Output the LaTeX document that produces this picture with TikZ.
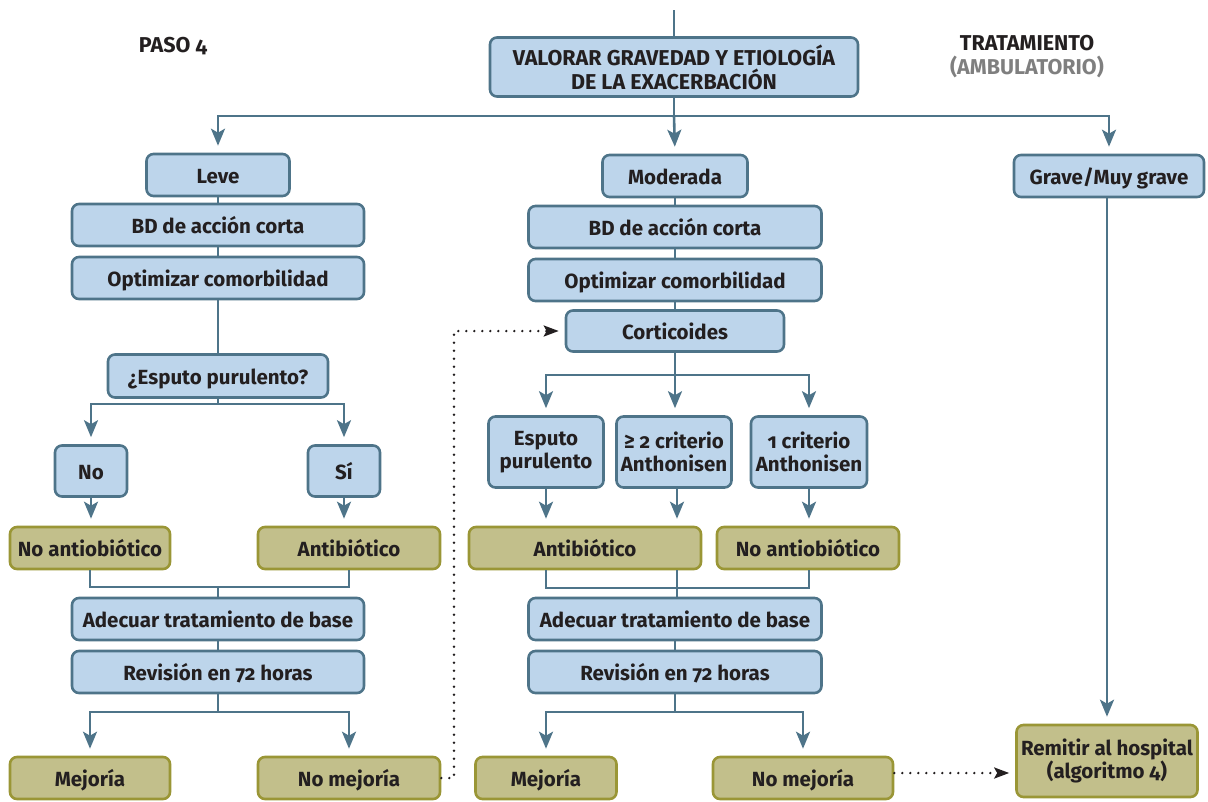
\documentclass[tikz,border=0pt]{standalone}
\usepackage{fontspec}
\setmainfont{Fira Sans}[RawFeature=+onum, BoldFeatures={RawFeature=+onum}]
\usetikzlibrary{arrows.meta,calc}
\definecolor{edge}{HTML}{4E7489}
\definecolor{bluefill}{HTML}{BDD5EB}
\definecolor{olivefill}{HTML}{C2BF8B}
\definecolor{oliveedge}{HTML}{9A9636}
\definecolor{ink}{HTML}{231F20}
\definecolor{greytxt}{HTML}{7F7F7F}
\tikzset{
  base/.style={line width=2.6pt, rounded corners=7pt, text=ink, align=center,
    inner sep=0pt, font=\fontsize{20.5}{23}\selectfont\bfseries,
    text height=16pt, text depth=0pt},
  twolines/.style={text height=, text depth=},
  bbox/.style={base, draw=edge, fill=bluefill},
  obox/.style={base, draw=oliveedge, fill=olivefill},
  link/.style={draw=edge, line width=2.6pt},
  arr/.style={link, -{Stealth[length=17pt,width=14pt,inset=4pt]}, shorten >=7pt},
  dotarr/.style={draw=ink, line width=2.6pt, line cap=round, dash pattern=on 0pt off 8pt,
    -{Stealth[length=15pt,width=11pt,inset=3pt,line cap=butt]}, shorten >=6pt},
  hdr/.style={text=ink, font=\fontsize{21.5}{24}\selectfont\bfseries, align=center},
}
\begin{document}
\begin{tikzpicture}[x=1pt,y=-1pt]
\useasboundingbox (0,0) rectangle (1208,801);

% headings
\node[hdr] (paso) at (173,46) {PASO 4};
\node[hdr, align=center] (trat) at (1027,57) {TRATAMIENTO\\\textcolor{greytxt}{(AMBULATORIO)}};

% top box
\node[bbox, twolines, minimum width=368pt, minimum height=59pt, font=\fontsize{21.5}{24}\selectfont\bfseries] (val) at (674,67)
  {VALORAR GRAVEDAD Y ETIOLOGÍA\\DE LA EXACERBACIÓN};
\coordinate (entry) at (674,10);

% left column: leve
\node[bbox, minimum width=143pt, minimum height=42pt] (leve) at (218,175) {Leve};
\node[bbox, minimum width=292pt, minimum height=42pt] (bdl) at (218,225) {BD de acción corta};
\node[bbox, minimum width=292pt, minimum height=42pt] (optl) at (218,278) {Optimizar comorbilidad};
\node[bbox, minimum width=220pt, minimum height=43pt] (esp) at (218,376) {¿Esputo purulento?};
\node[bbox, minimum width=72pt, minimum height=51pt] (no) at (91,471) {No};
\node[bbox, minimum width=72pt, minimum height=51pt] (si) at (344,471) {Sí};
\node[obox, minimum width=160pt, minimum height=42pt] (noabl) at (90,548) {No antiobiótico};
\node[obox, minimum width=182pt, minimum height=42pt] (abl) at (349,548) {Antibiótico};
\node[bbox, minimum width=292pt, minimum height=42pt] (adel) at (218,619) {Adecuar tratamiento de base};
\node[bbox, minimum width=292pt, minimum height=42pt] (revl) at (218,672) {Revisión en 72 horas};
\node[obox, minimum width=160pt, minimum height=42pt] (mejl) at (90,778) {Mejoría};
\node[obox, minimum width=182pt, minimum height=42pt] (nomejl) at (349,778) {No mejoría};

% middle column: moderada
\node[bbox, minimum width=145pt, minimum height=42pt] (mod) at (675,176) {Moderada};
\node[bbox, minimum width=293pt, minimum height=42pt] (bdm) at (675,227) {BD de acción corta};
\node[bbox, minimum width=293pt, minimum height=42pt] (optm) at (675,280) {Optimizar comorbilidad};
\node[bbox, minimum width=218pt, minimum height=41pt] (cort) at (675,331) {Corticoides};
\node[bbox, twolines, minimum width=115pt, minimum height=71pt] (espm) at (546,452) {Esputo\\purulento};
\node[bbox, twolines, minimum width=115pt, minimum height=71pt] (cr2) at (674,452) {≥ 2 criterio\\Anthonisen};
\node[bbox, twolines, minimum width=116pt, minimum height=71pt] (cr1) at (809,452) {1 criterio\\Anthonisen};
\node[obox, minimum width=232pt, minimum height=42pt] (abm) at (585,548) {Antibiótico};
\node[obox, minimum width=182pt, minimum height=42pt] (noabm) at (808,548) {No antiobiótico};
\node[bbox, minimum width=293pt, minimum height=42pt] (adem) at (675,619) {Adecuar tratamiento de base};
\node[bbox, minimum width=293pt, minimum height=42pt] (revm) at (675,672) {Revisión en 72 horas};
\node[obox, minimum width=141pt, minimum height=42pt] (mejm) at (546,778) {Mejoría};
\node[obox, minimum width=180pt, minimum height=42pt] (nomejm) at (803,778) {No mejoría};

% right column: grave
\node[bbox, minimum width=190pt, minimum height=42pt] (grave) at (1109,176) {Grave/Muy grave};
\node[obox, twolines, minimum width=181pt, minimum height=72pt] (remit) at (1107,761) {Remitir al hospital\\(algoritmo 4)};

% junction points
\coordinate (jtop) at (674,116);
\coordinate (jesp) at (218,404);
\coordinate (jabl) at (218,587);
\coordinate (jrevl) at (218,712);
\coordinate (jcort) at (675,375);
\coordinate (jabm) at (677,588);
\coordinate (jrevm) at (675,712);
\coordinate (dotl) at (454,778);

% top branch
\draw[link] (entry) -- (val.north);
\draw[link] (val.south) -- (jtop);
\draw[arr] (jtop) -| (leve.north);
\draw[arr] (jtop) -- (mod.north);
\draw[arr] (jtop) -| (grave.north);

% left column links
\draw[link] (leve.south) -- (bdl.north);
\draw[link] (bdl.south) -- (optl.north);
\draw[link] (optl.south) -- (esp.north);
\draw[link] (esp.south) -- (jesp);
\draw[arr] (jesp) -| (no.north);
\draw[arr] (jesp) -| (si.north);
\draw[arr] (no.south) -- (noabl.north -| no.south);
\draw[arr] (si.south) -- (abl.north -| si.south);
\draw[link] (noabl.south) |- (jabl) -| (abl.south);
\draw[link] (jabl) -- (adel.north -| jabl);
\draw[link] (adel.south) -- (revl.north);
\draw[link] (revl.south) -- (jrevl);
\draw[arr] (jrevl) -| (mejl.north);
\draw[arr] (jrevl) -| (nomejl.north);

% middle column links
\draw[link] (mod.south) -- (bdm.north);
\draw[link] (bdm.south) -- (optm.north);
\draw[link] (optm.south) -- (cort.north);
\draw[link] (cort.south) -- (jcort);
\draw[arr] (jcort) -| (espm.north);
\draw[arr] (jcort) -- (jcort |- cr2.north);
\draw[arr] (jcort) -| (cr1.north);
\draw[arr] (espm.south) -- (abm.north -| espm.south);
\draw[arr] (cr2.south -| jabm) -- (abm.north -| jabm);
\draw[arr] (cr1.south) -- (noabm.north -| cr1.south);
\draw[link] (abm.south -| espm.south) |- (jabm) -| (noabm.south -| cr1.south);
\draw[link] (abm.south -| jabm) -- (adem.north -| jabm);
\draw[link] (adem.south) -- (revm.north);
\draw[link] (revm.south) -- (jrevm);
\draw[arr] (jrevm) -| (mejm.north);
\draw[arr] (jrevm) -| (nomejm.north);

% right column link
\draw[arr] (grave.south -| remit.north) -- (remit.north);

% dotted feedback paths
\draw[dotarr] (nomejl.east) -- (dotl) |- (cort.west);
\draw[dotarr] ([yshift=5pt]nomejm.east) -- ([yshift=5pt]nomejm.east -| remit.west);
\end{tikzpicture}
\end{document}
